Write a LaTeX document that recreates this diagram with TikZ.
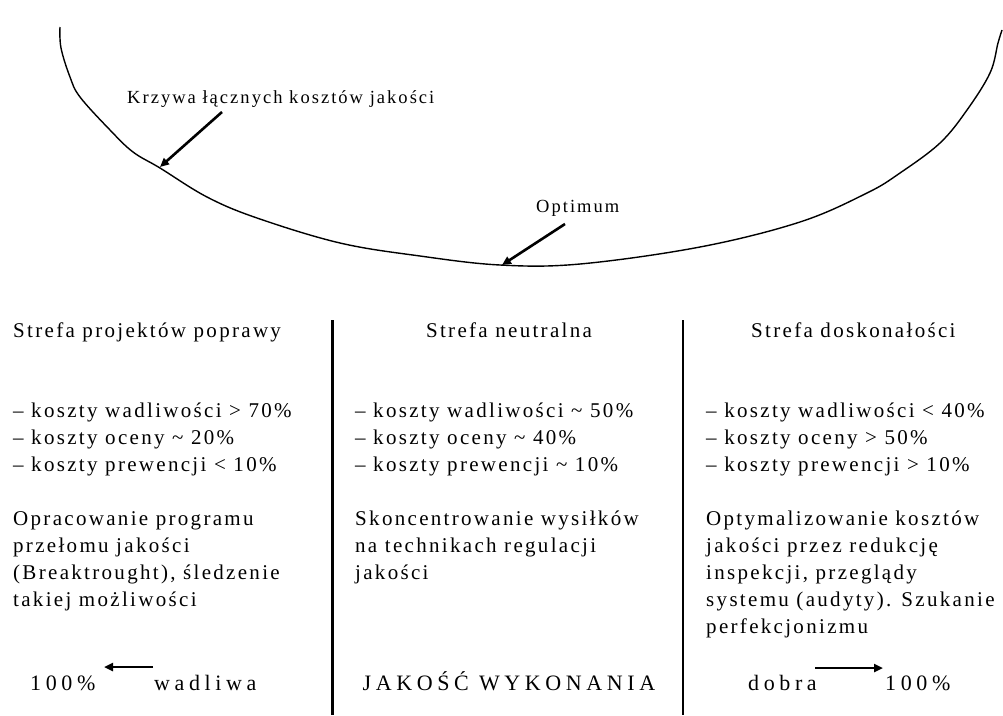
\documentclass[tikz,border=0pt]{standalone}
\usepackage{fontspec}
\setmainfont{Liberation Serif}[LetterSpace=11]
\newfontfamily\wideserif{Liberation Serif}[LetterSpace=21]
\usetikzlibrary{arrows.meta}

\begin{document}
\begin{tikzpicture}[x=1pt,y=-1pt]
\tikzstyle{every node}=[inner sep=0pt,font=\fontsize{21}{27}\selectfont];
\tikzstyle{block}=[anchor=base west,align=left];
\tikzstyle{axislabel}=[font=\wideserif\fontsize{22}{27}\selectfont];
\tikzstyle{pointer}=[line width=2.6pt,-{Triangle[length=9pt,width=8pt]}];
\useasboundingbox (0,0) rectangle (1003,715);
% the total cost curve
\draw [line width=1.4pt] plot [smooth,tension=0.6] coordinates {(60,27) (61,48) (70,77) (80,97) (110,130) (133,152) (160,168) (207,197) (257,218) (340,243) (420,256) (500,265) (580,264) (700,247) (800,222) (867,193) (900,173) (940,143) (967,110) (990,73) (998,43) (1002,30)};
\coordinate (c1) at (160,167);
\coordinate (c2) at (502,265);
\node [anchor=base west,font=\fontsize{18.5}{20}\selectfont] (krz) at (127,103) {Krzywa łącznych kosztów jakości};
\node [anchor=base west,font=\fontsize{18.5}{20}\selectfont] (opt) at (536,212) {Optimum};
\draw [pointer] (222,112) -- (c1);
\draw [pointer] (565,224) -- (c2);
% zone separators
\draw [line width=3pt] (332,320) -- (332,715);
\draw [line width=2pt] (683,320) -- (683,715);
% headers
\node [anchor=base west] (hl) at (13,337) {Strefa projektów poprawy};
\node [anchor=base] (hm) at (509,337) {Strefa neutralna};
\node [anchor=base west] (hr) at (751,337) {Strefa doskonałości};
% cost shares (base = last line)
\node [block] (bl) at (13,471) {– koszty wadliwości > 70\%\\– koszty oceny \textasciitilde{} 20\%\\– koszty prewencji < 10\%};
\node [block] (bm) at (355,471) {– koszty wadliwości \textasciitilde{} 50\%\\– koszty oceny \textasciitilde{} 40\%\\– koszty prewencji \textasciitilde{} 10\%};
\node [block] (br) at (706,471) {– koszty wadliwości < 40\%\\– koszty oceny > 50\%\\– koszty prewencji > 10\%};
% actions
\node [block] (pl) at (13,606) {Opracowanie programu\\przełomu jakości\\(Breaktrought), śledzenie\\takiej możliwości};
\node [block] (pm) at (355,579) {Skoncentrowanie wysiłków\\na technikach regulacji\\jakości};
\node [block] (pr) at (706,633) {Optymalizowanie kosztów\\jakości przez redukcję\\inspekcji, przeglądy\\systemu (audyty). Szukanie\\perfekcjonizmu};
% quality axis
\node [axislabel,anchor=base west] (l100) at (30,690) {100\%};
\node [axislabel,anchor=base west] (bad) at (154,690) {wadliwa};
\node [axislabel,anchor=base] (axis) at (509,690) {JAKOŚĆ WYKONANIA};
\node [axislabel,anchor=base west] (good) at (748,690) {dobra};
\node [axislabel,anchor=base west] (r100) at (885,690) {100\%};
\coordinate (a1) at (153,667);
\coordinate (a2) at (104,667);
\coordinate (a3) at (815,668);
\coordinate (a4) at (883,668);
\draw [pointer,line width=2.4pt] (a1) -- (a2);
\draw [pointer,line width=2.4pt] (a3) -- (a4);
\end{tikzpicture}
\end{document}
